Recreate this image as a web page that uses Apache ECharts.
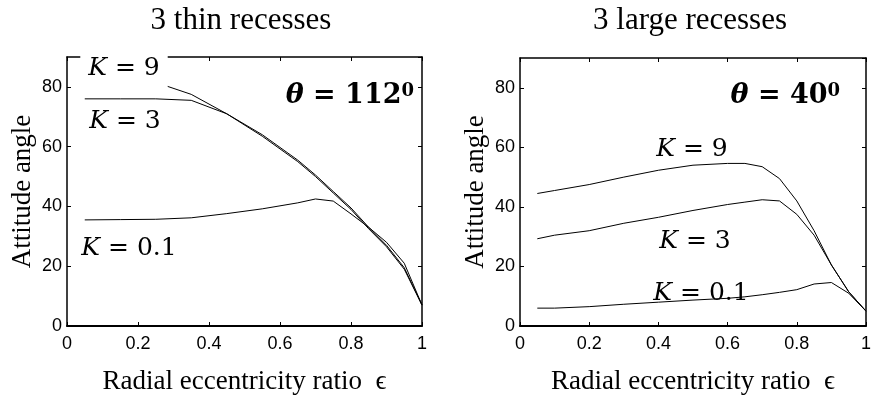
<!DOCTYPE html>
<html><head><meta charset="utf-8">
<script src="https://cdn.jsdelivr.net/npm/echarts@6/dist/echarts.min.js"></script>
<style>html,body{margin:0;padding:0;background:#fff}#c{width:874px;height:400px}</style>
</head><body><div id="c"></div>
<script>
// ---- data ----
const epsThin   = [0.05, 0.15, 0.25, 0.35, 0.45, 0.55, 0.65, 0.70, 0.75, 0.80, 0.85, 0.90, 0.95, 1.00];
const thinK01   = [35.5, 35.6, 35.7, 36.2, 37.6, 39.2, 41.2, 42.5, 41.8, 37.5, 33.0, 28.0, 21.0, 7.0];
const thinK3    = [76.0, 76.0, 76.0, 75.5, 71.0, 64.0, 55.5, 50.5, 45.0, 39.5, 33.0, 27.0, 19.5, 7.0];
const thinK9    = [82.0, 82.0, 81.5, 77.5, 71.0, 63.5, 55.0, 50.0, 44.5, 39.0, 32.5, 26.5, 19.0, 7.0];

const epsLarge  = [0.05, 0.10, 0.20, 0.30, 0.40, 0.50, 0.60, 0.65, 0.70, 0.75, 0.80, 0.85, 0.90, 0.95, 1.00];
const largeK01  = [6.0, 6.0, 6.5, 7.3, 8.0, 8.7, 9.3, 9.8, 10.5, 11.3, 12.2, 14.1, 14.6, 11.0, 5.0];
const largeK3   = [29.3, 30.5, 32.0, 34.5, 36.5, 38.8, 40.8, 41.6, 42.4, 42.0, 37.5, 30.5, 20.5, 11.5, 5.0];
const largeK9   = [44.5, 45.5, 47.5, 50.0, 52.3, 54.0, 54.6, 54.6, 53.5, 49.5, 42.0, 32.0, 20.5, 11.5, 5.0];

const panelTitles = ['3 thin recesses', '3 large recesses'];
const thetaValues = ['112', '40'];
const kNames      = ['0.1', '3', '9'];
const xAxisName   = 'Radial eccentricity ratio  \u03F5';
const yAxisName   = 'Attitude angle';
const xRange = [0, 1], xStep = 0.2;
const yRange = [0, 90], yStep = 20;

// ---- chart ----
const chart = echarts.init(document.getElementById('c'), null, {renderer: 'canvas'});
const pair = (xs, ys) => xs.map((x, i) => [x, ys[i]]);

const grids = [
  {left: 67, right: 452, top: 57, bottom: 69},
  {left: 520, right: 3, top: 58, bottom: 64}
];
const black = '#000';
const serif = "'Liberation Serif', 'Times New Roman', serif";
const mathFont = "'DejaVu Serif', serif";

const xAxes = [], yAxes = [];
grids.forEach((g, i) => {
  const base = {type: 'value', gridIndex: i, min: xRange[0], max: xRange[1], interval: xStep,
    splitLine: {show: false}, axisTick: {inside: true, length: 4, lineStyle: {color: black, width: 1}}};
  xAxes.push(Object.assign({}, base, {position: 'bottom',
    axisLine: {onZero: false, lineStyle: {color: black, width: 2}},
    axisLabel: {color: black, fontFamily: "'Liberation Sans Narrow', 'Arial Narrow', 'Liberation Sans', sans-serif", fontSize: 18, margin: 9},
    name: xAxisName, nameLocation: 'middle', nameGap: 42,
    nameTextStyle: {color: black, fontFamily: serif, fontSize: 27}}));
  xAxes.push(Object.assign({}, base, {position: 'top',
    axisLine: {onZero: false, lineStyle: {color: black, width: 1.5}}, axisLabel: {show: false}}));
  const ybase = {type: 'value', gridIndex: i, min: yRange[0], max: yRange[1], interval: yStep,
    splitLine: {show: false}, axisTick: {inside: true, length: 4, lineStyle: {color: black, width: 1}}};
  yAxes.push(Object.assign({}, ybase, {position: 'left',
    axisLine: {onZero: false, lineStyle: {color: black, width: 1.5}},
    axisLabel: {color: black, fontFamily: "'Liberation Sans', Arial, sans-serif", fontSize: 18, margin: 5, showMaxLabel: false},
    name: yAxisName, nameLocation: 'middle', nameGap: 31,
    nameTextStyle: {color: black, fontFamily: serif, fontSize: 27}}));
  yAxes.push(Object.assign({}, ybase, {position: 'right',
    axisLine: {onZero: false, lineStyle: {color: black, width: 1.5}}, axisLabel: {show: false}}));
});

const mkSeries = (name, xs, ys, panel) => ({
  name, type: 'line', data: pair(xs, ys), xAxisIndex: panel * 2, yAxisIndex: panel * 2,
  symbol: 'none', lineStyle: {color: black, width: 1}, silent: true, animation: false, z: 2
});

const series = [
  mkSeries('thin K=0.1', epsThin, thinK01, 0),
  mkSeries('thin K=3', epsThin, thinK3, 0),
  mkSeries('thin K=9', epsThin, thinK9, 0),
  mkSeries('large K=0.1', epsLarge, largeK01, 1),
  mkSeries('large K=3', epsLarge, largeK3, 1),
  mkSeries('large K=9', epsLarge, largeK9, 1)
];

const kRich = {k: {fontFamily: mathFont, fontStyle: 'italic', fontSize: 25, fill: black},
               n: {fontFamily: mathFont, fontSize: 25, fill: black}};
const kLabel = (val, x, y, bg, pad) => ({
  type: 'text', x, y, z: 100,
  style: Object.assign({text: '{k|K}{n| = ' + val + '}', rich: kRich, align: 'center', verticalAlign: 'middle',
    fill: black}, bg ? {backgroundColor: '#fff', padding: pad} : {})
});
const thRich = {t: {fontFamily: mathFont, fontStyle: 'italic', fontWeight: 'bold', fontSize: 27, fill: black},
                b: {fontFamily: mathFont, fontWeight: 'bold', fontSize: 27, fill: black},
                s: {fontFamily: mathFont, fontWeight: 'bold', fontSize: 18, fill: black, verticalAlign: 'top'}};
const thLabel = (val, x, y) => ({
  type: 'text', x, y, z: 100,
  style: {text: '{t|\u03B8}{b| = ' + val + '}{s|0}', rich: thRich, align: 'right', verticalAlign: 'middle'}
});
const titleText = (t, x, y) => ({
  type: 'text', x, y, z: 100,
  style: {text: t, fill: black, font: '31px ' + serif, align: 'center', verticalAlign: 'middle'}
});

const graphic = [
  titleText(panelTitles[0], 241, 21),
  titleText(panelTitles[1], 690, 21),
  kLabel(kNames[2], 124, 68, true, [9, 8, 8, 8]),
  kLabel(kNames[1], 125, 121, false),
  kLabel(kNames[0], 129, 248, false),
  thLabel(thetaValues[0], 414, 96),
  kLabel(kNames[2], 692, 149, false),
  kLabel(kNames[1], 695, 241, false),
  kLabel(kNames[0], 701, 293, false),
  thLabel(thetaValues[1], 840, 96)
];

chart.setOption({
  animation: false,
  backgroundColor: '#fff',
  grid: grids,
  xAxis: xAxes,
  yAxis: yAxes,
  series,
  graphic
});
</script></body></html>
